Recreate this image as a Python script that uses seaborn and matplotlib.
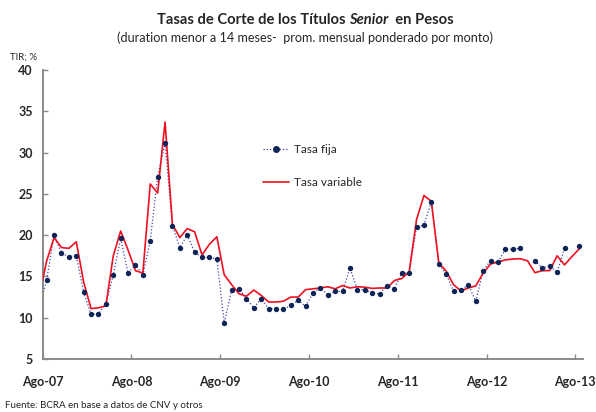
import numpy as np
import pandas as pd
import matplotlib
matplotlib.use("Agg")
import matplotlib.pyplot as plt
from matplotlib.lines import Line2D
import seaborn as sns

# Monthly series, Aug-2007 onwards (TIR, %)
tasa_fija = [
    11.2, 14.6, 20.0, 17.8, 17.4, 17.5, 13.1, 10.4, 10.5, 11.7,
    15.2, 19.6, 15.4, 16.4, 15.2, 19.3, 27.1, 31.1, 21.1, 18.5,
    20.0, 17.9, 17.3, 17.3, 17.1, 9.4, 13.3, 13.5, 12.3, 11.2,
    12.3, 11.1, 11.1, 11.0, 11.5, 12.1, 11.4, 13.0, 13.6, 12.8,
    13.2, 13.2, 16.0, 13.4, 13.4, 13.0, 12.9, 13.9, 13.5, 15.4,
    15.4, 21.0, 21.2, 24.0, 16.5, 15.3, 13.2, 13.3, 14.0, 12.0,
    15.7, 16.9, 16.7, 18.3, 18.3, 18.4, np.nan, 16.9, 16.0, 16.3,
    15.5, 18.4, np.nan, 18.7,
]
tasa_variable = [
    12.6, 16.9, 19.7, 18.5, 18.4, 19.2, 14.3, 11.1, 11.2, 11.45,
    17.5, 20.5, 18.2, 15.7, 15.4, 26.2, 25.1, 33.7, 21.3, 19.7,
    20.8, 20.4, 17.6, 18.9, 19.8, 15.2, 14.0, 12.9, 12.6, 13.35,
    12.7, 11.9, 11.9, 12.0, 12.5, 12.5, 13.4, 13.5, 13.6, 13.75,
    13.5, 13.9, 13.6, 13.75, 13.7, 13.55, 13.6, 13.6, 14.5, 14.75,
    15.55, 21.9, 24.8, 24.1, 16.65, 15.65, 14.0, 13.25, 13.6, 13.85,
    15.4, 16.5, 16.75, 17.0, 17.1, 17.15, 16.9, 15.45, 15.7, 15.7,
    17.5, 16.4, 17.4, 18.35,
]
etiquetas_x = ["Ago-07", "Ago-08", "Ago-09", "Ago-10", "Ago-11", "Ago-12", "Ago-13"]
valores_y = [5, 10, 15, 20, 25, 30, 35, 40]

sns.set_style("ticks")
plt.rcParams["font.family"] = ["Lato", "DejaVu Sans"]

NAVY = "#0e2356"
DOT_BLUE = "#4646a8"
RED = "#ee1020"
GRAY = "#8a8a8a"

df = pd.DataFrame({
    "mes": np.arange(len(tasa_fija)),
    "fija": tasa_fija,
    "variable": tasa_variable,
})
df["tramo"] = df["fija"].isna().cumsum()
fija = df.dropna(subset=["fija"])

W, H = 596, 412
fig = plt.figure(figsize=(W / 100, H / 100), dpi=100)
left, right, bottom, top = 42.7, 582.7, 359, 70
ax = fig.add_axes([left / W, 1 - bottom / H, (right - left) / W, (bottom - top) / H])

# fixed-rate series: dotted connector broken at missing months, plus markers
sns.lineplot(data=fija, x="mes", y="fija", units="tramo", estimator=None,
             color=DOT_BLUE, lw=0.9, linestyle=(0, (1, 1.6)), ax=ax, zorder=2)
sns.lineplot(data=df, x="mes", y="variable", color=RED, lw=1.2, ax=ax, zorder=3)
sns.scatterplot(data=fija, x="mes", y="fija", color=NAVY, s=15, linewidth=0,
                ax=ax, zorder=4)

ax.set_xlim(0.46, 73.46)
ax.set_ylim(5, 40)
ax.set_xlabel("")
ax.set_ylabel("")

xt = [0.46 + 12 * k for k in range(len(etiquetas_x))]
ax.set_xticks(xt)
ax.set_xticklabels(etiquetas_x, fontsize=9, fontweight="bold")
ax.set_yticks(valores_y)
ax.set_yticklabels([str(v) for v in valores_y], fontsize=9, fontweight="bold")
ax.tick_params(axis="both", direction="in", length=3.5, width=1, color=GRAY)
ax.tick_params(axis="x", pad=12)
ax.tick_params(axis="y", pad=7)

for s in ["top", "right"]:
    ax.spines[s].set_visible(False)
for s in ["left", "bottom"]:
    ax.spines[s].set_color(GRAY)
    ax.spines[s].set_linewidth(1.4)

handles = [
    Line2D([], [], color=DOT_BLUE, lw=0.9, linestyle=(0, (1, 1.6)), marker="o",
           markersize=4, markerfacecolor=NAVY, markeredgecolor=NAVY),
    Line2D([], [], color=RED, lw=1.2),
]
ax.legend(handles, ["Tasa fija", "Tasa variable"], frameon=False, fontsize=8.5,
          loc="upper left", bbox_to_anchor=(263 / W, 1 - 144 / H),
          bbox_transform=fig.transFigure, borderpad=0, borderaxespad=0,
          handlelength=2.2, handletextpad=0.4, labelspacing=1.85)

# title with italic word, laid out piece by piece and centred
fig.canvas.draw()
renderer = fig.canvas.get_renderer()
pieces = [("Tasas de Corte de los Títulos ", "normal"),
          ("Senior", "italic"),
          ("  en Pesos", "normal")]
texts = []
for txt, style in pieces:
    t = fig.text(0, 1 - 20 / H, txt, fontsize=10.6, fontweight="bold",
                 fontstyle=style, va="center", ha="left")
    texts.append(t)
widths = [t.get_window_extent(renderer).width for t in texts]
x0 = 305.5 - sum(widths) / 2
for t, w in zip(texts, widths):
    t.set_x(x0 / W)
    x0 += w

fig.text(305 / W, 1 - 38 / H,
         "(duration menor a 14 meses-  prom. mensual ponderado por monto)",
         fontsize=9.1, ha="center", va="center")
fig.text(10 / W, 1 - 57 / H, "TIR; %", fontsize=7, ha="left", va="center")
fig.text(5 / W, 1 - 405 / H, "Fuente: BCRA en base a datos de CNV y otros",
         fontsize=7, ha="left", va="center")

fig.savefig("out.png", dpi=100)
